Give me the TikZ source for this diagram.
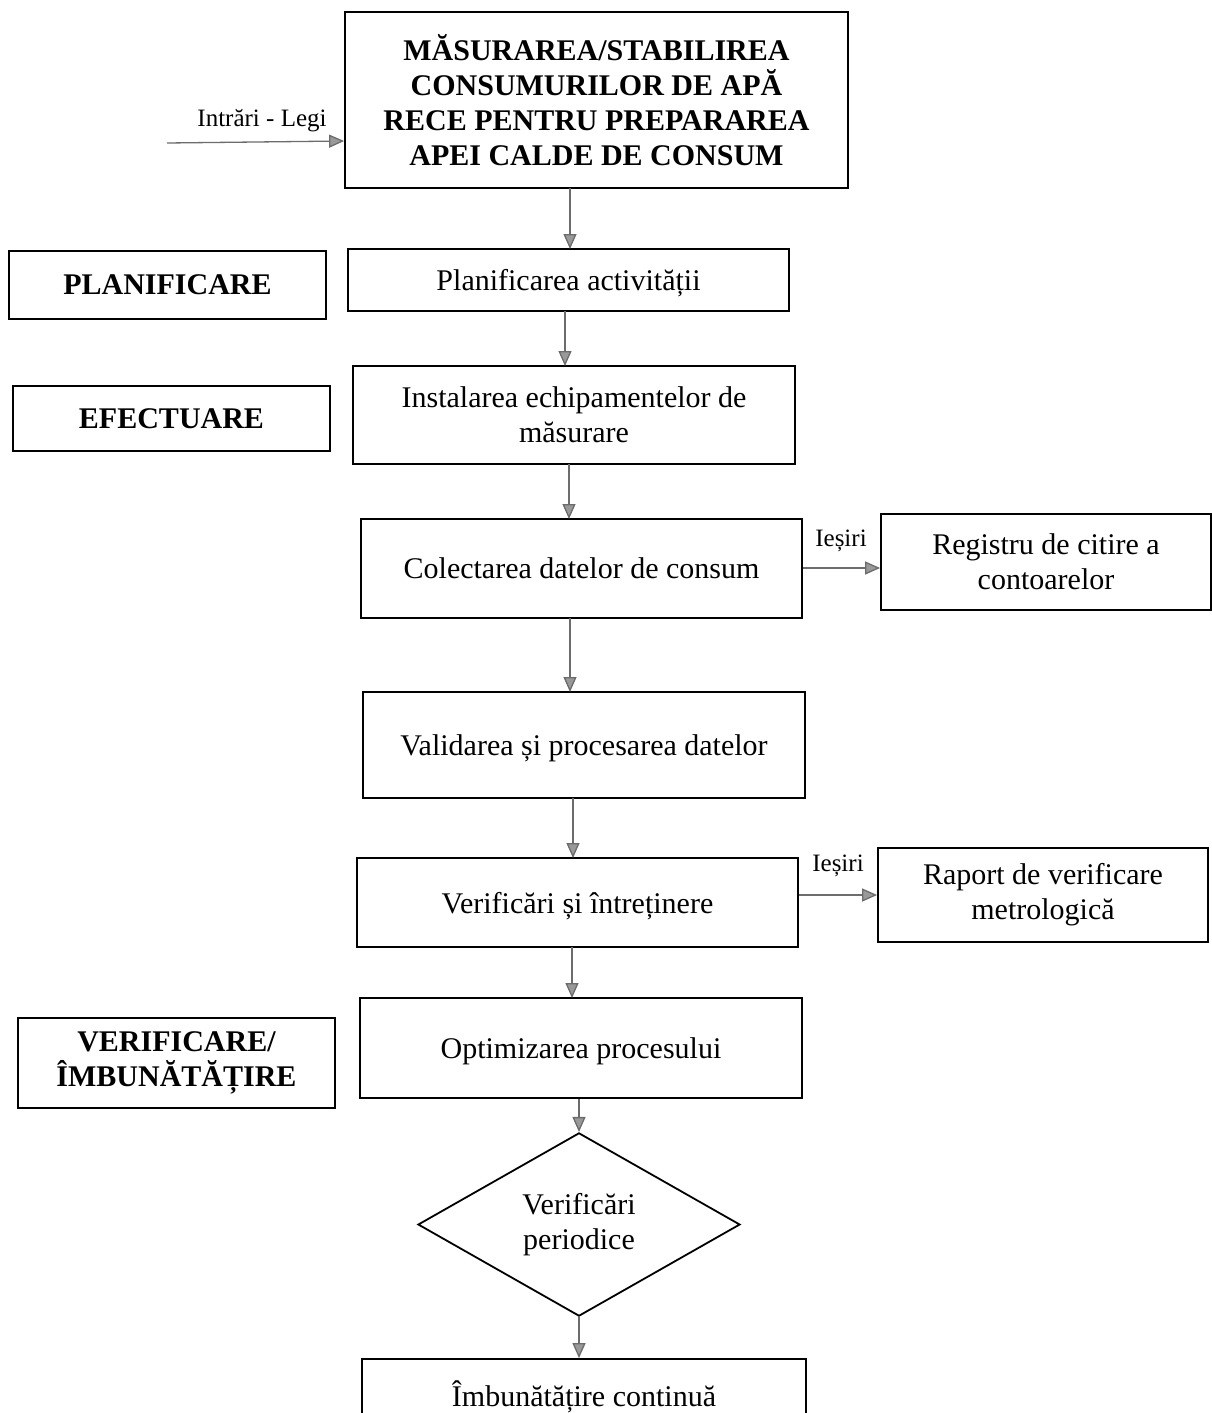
\documentclass[tikz,border=0pt]{standalone}
\usepackage{fontspec}
\setmainfont{Liberation Serif}
\usetikzlibrary{shapes.geometric,arrows.meta}
\begin{document}
\begin{tikzpicture}[x=1pt,y=-1pt,
  box/.style={draw=black,line width=1.8pt,inner sep=0pt,align=center,font=\fontsize{30}{35}\selectfont},
  bbox/.style={box,font=\fontsize{30}{35}\selectfont\bfseries},
  oneline/.style={text depth=0pt},
  flow/.style={draw=gray!85!black,line width=1.3pt,-{Triangle[length=15pt,width=13pt,fill=gray!80]}},
  lbl/.style={font=\fontsize{25}{30}\selectfont,inner sep=0pt}]
\useasboundingbox (0,0) rectangle (1211,1413);
% nodes
\node[bbox,minimum width=503,minimum height=176] (top) at (596.5,100) {MĂSURAREA/STABILIREA\\CONSUMURILOR DE APĂ\\RECE PENTRU PREPARAREA\\APEI CALDE DE CONSUM};
\node[bbox,oneline,minimum width=317,minimum height=68] (plan) at (167.5,285) {PLANIFICARE};
\node[box,oneline,minimum width=441,minimum height=62] (act) at (568.5,280) {Planificarea activității};
\node[bbox,oneline,minimum width=317,minimum height=65] (efec) at (171.5,418.5) {EFECTUARE};
\node[box,minimum width=442,minimum height=98] (inst) at (574,415) {Instalarea echipamentelor de\\măsurare};
\node[box,oneline,minimum width=441,minimum height=99] (col) at (581.5,568.5) {Colectarea datelor de consum};
\node[box,minimum width=330,minimum height=96] (reg) at (1046,562) {Registru de citire a\\contoarelor};
\node[box,oneline,minimum width=442,minimum height=106] (val) at (584,745) {Validarea și procesarea datelor};
\node[box,oneline,minimum width=441,minimum height=89] (ver) at (577.5,902.5) {Verificări și întreținere};
\node[box,minimum width=330,minimum height=94] (rap) at (1043,895) {Raport de verificare\\metrologică};
\node[box,oneline,minimum width=442,minimum height=100] (opt) at (581,1048) {Optimizarea procesului};
\node[bbox,minimum width=317,minimum height=90] (vi) at (176.5,1063) {VERIFICARE/\\ÎMBUNĂTĂȚIRE};
\node[box,shape=diamond,minimum width=322,minimum height=183] (dia) at (579,1224.5) {\raisebox{-6pt}{\begin{tabular}{@{}c@{}}Verificări\\periodice\end{tabular}}};
\node[box,oneline,minimum width=444,minimum height=70] (imb) at (584,1394) {Îmbunătățire continuă};
% labels
\coordinate (inS) at (167,143);
\node[lbl] (inl) at (262,121) {Intrări - Legi};
\node[lbl] (ie1) at (841,541) {Ieșiri};
\node[lbl] (ie2) at (838,866) {Ieșiri};
% connectors
\draw[flow] (inS) -- (top.west|-0,141);
\draw[flow] (570,188) -- (570,249);
\draw[flow] (565,311) -- (565,366);
\draw[flow] (569,464) -- (569,519);
\draw[flow] (col.east|-0,568) -- (reg.west|-0,568);
\draw[flow] (570,618) -- (570,692);
\draw[flow] (573,798) -- (573,858);
\draw[flow] (ver.east|-0,895) -- (rap.west|-0,895);
\draw[flow] (572,947) -- (572,998);
\draw[flow] (dia.north|-opt.south) -- (dia.north);
\draw[flow] (dia.south) -- (imb.north-|dia.south);
\end{tikzpicture}
\end{document}
